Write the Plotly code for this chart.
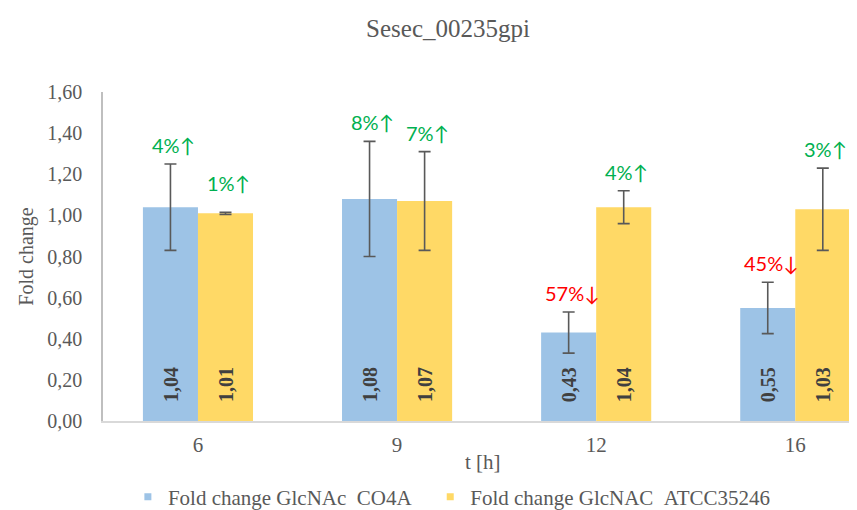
import plotly.graph_objects as go

categories = ["6", "9", "12", "16"]
series_names = ["Fold change GlcNAc  CO4A", "Fold change GlcNAC  ATCC35246"]
co4a_values = [1.04, 1.08, 0.43, 0.55]
co4a_errors = [0.21, 0.28, 0.10, 0.125]
atcc_values = [1.01, 1.07, 1.04, 1.03]
atcc_errors = [0.005, 0.24, 0.08, 0.20]
co4a_change = ["4%↑", "8%↑", "57%↓", "45%↓"]
atcc_change = ["1%↑", "7%↑", "4%↑", "3%↑"]
y_ticks = [0, 0.2, 0.4, 0.6, 0.8, 1.0, 1.2, 1.4, 1.6]

BLUE = "#9DC3E6"
YELLOW = "#FFD966"
GREY = "#595959"
SERIF = "Liberation Serif, Times New Roman, serif"
SANS = "Lato, Open Sans, sans-serif"

def fmt(v):
    return f"{v:.2f}".replace(".", ",")

fig = go.Figure()
for name, vals, errs, col in [
    (series_names[0], co4a_values, co4a_errors, BLUE),
    (series_names[1], atcc_values, atcc_errors, YELLOW),
]:
    fig.add_trace(go.Bar(
        x=categories, y=vals, name=name, showlegend=False,
        marker=dict(color=col, line=dict(width=0)),
        error_y=dict(type="data", array=errs, visible=True, color=GREY,
                     thickness=1.6, width=6),
    ))
# legend entries with small square swatches (as in the original)
for name, col, lg in [(series_names[0], BLUE, "legend"), (series_names[1], YELLOW, "legend2")]:
    fig.add_trace(go.Scatter(
        x=[None], y=[None], mode="markers", name=name.replace("  ", "\u00a0\u00a0"),
        marker=dict(symbol="square", size=7, color=col), legend=lg,
    ))

annotations = []
half = 27.5
for i, c in enumerate(categories):
    for vals, errs, changes, sign in [
        (co4a_values, co4a_errors, co4a_change, -1),
        (atcc_values, atcc_errors, atcc_change, 1),
    ]:
        annotations.append(dict(
            x=i, y=0, xref="x", yref="y", xshift=sign * half, yshift=17,
            text=f"<b>{fmt(vals[i])}</b>", textangle=-90, showarrow=False,
            yanchor="bottom", font=dict(family=SERIF, size=20, color="#404040"),
        ))
        ch = changes[i]
        color = "#00B050" if "↑" in ch else "#FF0000"
        extra = 10 if errs[i] < 0.02 else 0
        annotations.append(dict(
            x=i, y=vals[i] + errs[i], xref="x", yref="y",
            xshift=sign * half + 3, yshift=5 + extra,
            text=ch, showarrow=False, yanchor="bottom",
            font=dict(family=SANS, size=20, color=color),
        ))

annotations.append(dict(
    x=0.504, y=0, xref="paper", yref="paper", yshift=-41,
    text="t [h]", showarrow=False, yanchor="middle",
    font=dict(family=SERIF, size=21, color=GREY),
))

legend_style = dict(orientation="h", y=-0.231, yanchor="middle", xanchor="left",
                    font=dict(family=SERIF, size=21, color=GREY),
                    itemwidth=30, bgcolor="rgba(0,0,0,0)")

fig.update_layout(
    width=849, height=510,
    margin=dict(l=95, r=0, t=84, b=93),
    paper_bgcolor="white", plot_bgcolor="white",
    separators=", ",
    title=dict(text="Sesec_00235gpi", x=440 / 849, xanchor="center",
               y=1 - 20 / 510, yanchor="middle",
               font=dict(family=SERIF, size=25, color=GREY)),
    barmode="group", bargap=0.447, bargroupgap=0,
    xaxis=dict(type="category", range=[-0.477, 3.31],
               showline=True, linecolor="#D9D9D9", linewidth=1.5,
               ticks="", showgrid=False, ticklabelstandoff=4,
               tickfont=dict(family=SERIF, size=21, color=GREY)),
    yaxis=dict(range=[0, 1.6], tickvals=y_ticks, tickformat=".2f",
               showline=True, linecolor="#BFBFBF", linewidth=1.5,
               showgrid=False, zeroline=False, ticks="", ticklabelstandoff=15,
               tickfont=dict(family=SERIF, size=20, color=GREY),
               title=dict(text="Fold change", standoff=8,
                          font=dict(family=SERIF, size=20, color=GREY))),
    legend=dict(x=0.033, **legend_style),
    legend2=dict(x=0.434, **legend_style),
    annotations=annotations,
)

fig.write_html("out.html")
